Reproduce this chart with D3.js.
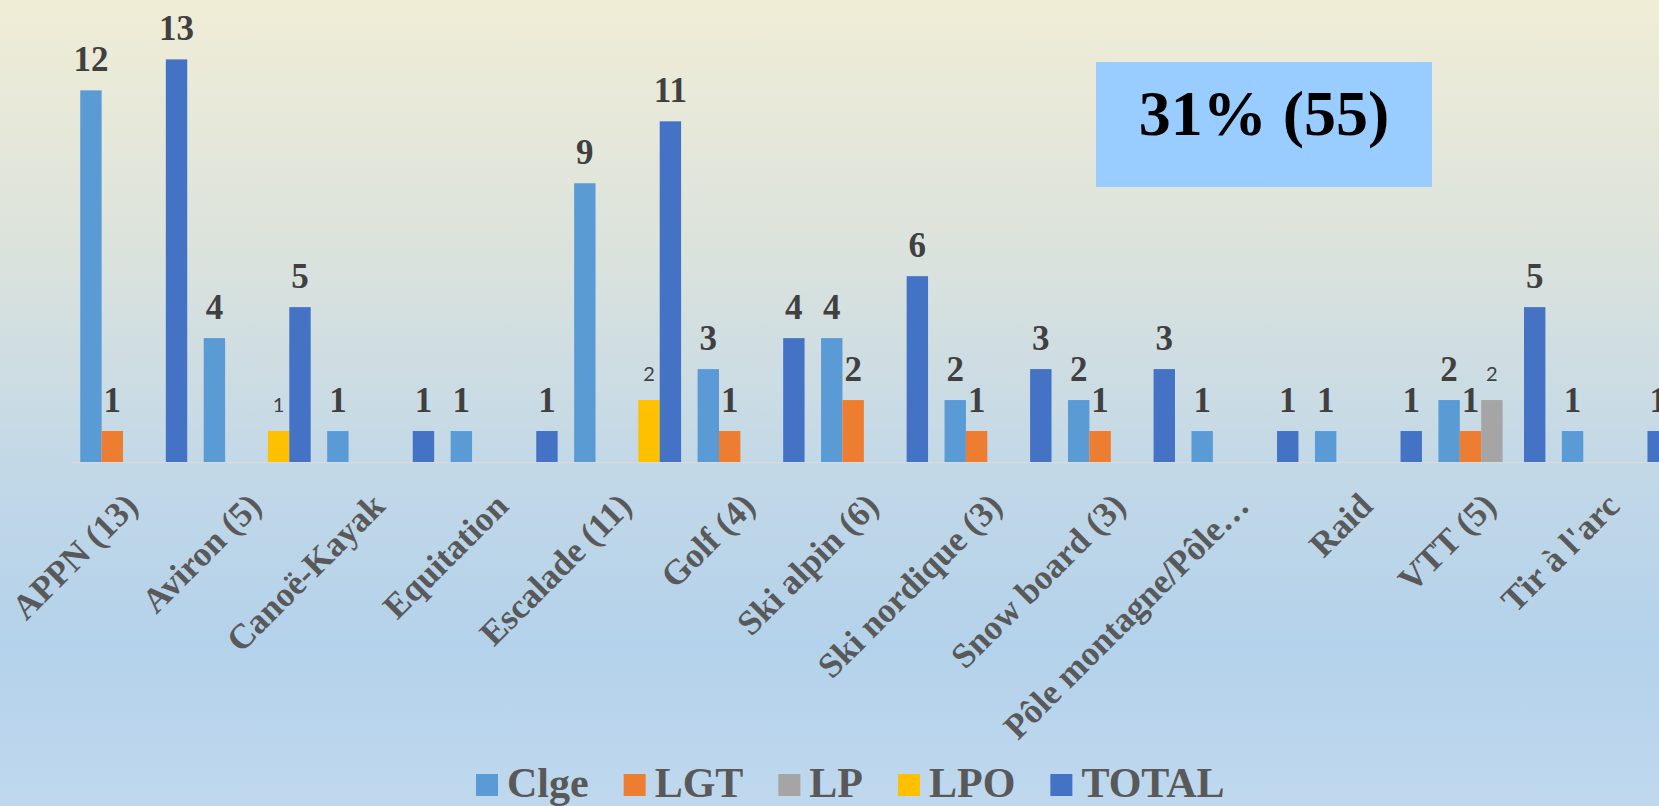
<!DOCTYPE html>
<html>
<head>
<meta charset="utf-8">
<script src="https://cdn.jsdelivr.net/npm/d3@7"></script>
<style>
  html, body { margin: 0; padding: 0; overflow: hidden; }
  svg { display: block; }
</style>
</head>
<body>
<svg id="chart" width="1659" height="806"></svg>
<script>
// ---- data ----
const categories = ["APPN (13)", "Aviron (5)", "Canoë-Kayak", "Equitation", "Escalade (11)", "Golf (4)",
  "Ski alpin (6)", "Ski nordique (3)", "Snow board (3)", "Pôle montagne/Pôle…", "Raid", "VTT (5)", "Tir à l'arc"];
const seriesNames = ["Clge", "LGT", "LP", "LPO", "TOTAL"];
const clge  = [12, 4, 1, 1, 9, 3, 4, 2, 2, 1, 1, 2, 1];
const lgt   = [1, 0, 0, 0, 0, 1, 2, 1, 1, 0, 0, 1, 0];
const lp    = [0, 0, 0, 0, 0, 0, 0, 0, 0, 0, 0, 2, 0];
const lpo   = [0, 1, 0, 0, 2, 0, 0, 0, 0, 0, 0, 0, 0];
const total = [13, 5, 1, 1, 11, 4, 6, 3, 3, 1, 1, 5, 1];
const seriesValues = [clge, lgt, lp, lpo, total];
const annotation = "31% (55)";

// ---- styles ----
const colors = ["#5B9BD5", "#ED7D31", "#A5A5A5", "#FFC000", "#4472C4"];
const smallLabel = [false, false, true, true, false];

const svg = d3.select("#chart");
const W = 1659, H = 806;

// background gradient
const defs = svg.append("defs");
const grad = defs.append("linearGradient").attr("id", "bg").attr("x1", 0).attr("y1", 0).attr("x2", 0).attr("y2", 1);
[["0%", "#F0EDD6"], ["30%", "#DCE3DC"], ["58%", "#C2D8E7"], ["80%", "#B4D2EB"], ["100%", "#BFD8EE"]]
  .forEach(([o, c]) => grad.append("stop").attr("offset", o).attr("stop-color", c));
svg.append("rect").attr("width", W).attr("height", H).attr("fill", "url(#bg)");

// scales
const baseY = 462;
const x0 = d3.scaleBand().domain(categories).range([72, 72 + 13 * 123.47])
  .paddingInner(0.1336).paddingOuter(0.0668);
const x1 = d3.scaleBand().domain(seriesNames).range([0, x0.bandwidth()]).padding(0);
const y = d3.scaleLinear().domain([0, 14]).range([baseY, baseY - 14 * 30.97]);

// axis line
svg.append("line").attr("x1", 73).attr("x2", W).attr("y1", baseY + 0.5).attr("y2", baseY + 0.5)
  .attr("stroke", "#D9D9D9").attr("stroke-width", 1.5);

// bars
const data = [];
categories.forEach((c, i) => seriesNames.forEach((s, j) => {
  data.push({ cat: c, ser: s, j: j, v: seriesValues[j][i] });
}));
const shown = data.filter(d => d.v > 0);

svg.append("g").selectAll("rect").data(shown).join("rect")
  .attr("x", d => x0(d.cat) + x1(d.ser))
  .attr("y", d => y(d.v))
  .attr("width", x1.bandwidth())
  .attr("height", d => y(0) - y(d.v))
  .attr("fill", d => colors[d.j]);

// data labels
svg.append("g").selectAll("text").data(shown).join("text")
  .attr("x", d => x0(d.cat) + x1(d.ser) + x1.bandwidth() / 2)
  .attr("y", d => y(d.v) - 19)
  .attr("text-anchor", "middle")
  .attr("fill", "#404040")
  .attr("font-family", d => smallLabel[d.j] ? "Lato, 'Liberation Sans', sans-serif" : "'Liberation Serif', 'Times New Roman', serif")
  .attr("font-weight", d => smallLabel[d.j] ? "normal" : "bold")
  .attr("font-size", d => smallLabel[d.j] ? 20 : 35)
  .text(d => d.v);

// category labels
svg.append("g").selectAll("text").data(categories).join("text")
  .attr("transform", d => `translate(${x0(d) + x0.bandwidth() / 2 + 6},${baseY + 46}) rotate(-45)`)
  .attr("text-anchor", "end")
  .attr("fill", "#595959")
  .attr("font-family", "'Liberation Serif', 'Times New Roman', serif")
  .attr("font-weight", "bold")
  .attr("font-size", 35)
  .text(d => d);

// annotation box
svg.append("rect").attr("x", 1096).attr("y", 62).attr("width", 336).attr("height", 125).attr("fill", "#99CCFF");
svg.append("text").attr("x", 1264).attr("y", 135).attr("text-anchor", "middle")
  .attr("font-family", "'Liberation Serif', 'Times New Roman', serif").attr("font-weight", "bold")
  .attr("font-size", 64).attr("fill", "#000").text(annotation);

// legend
const legend = svg.append("g");
let lx = 476;
seriesNames.forEach((s, j) => {
  legend.append("rect").attr("x", lx).attr("y", 774).attr("width", 22).attr("height", 22).attr("fill", colors[j]);
  const t = legend.append("text").attr("x", lx + 31).attr("y", 797)
    .attr("font-family", "'Liberation Serif', 'Times New Roman', serif").attr("font-weight", "bold")
    .attr("font-size", 42).attr("fill", "#595959").text(s);
  lx += 31 + t.node().getComputedTextLength() + 35;
});
</script>
</body>
</html>
